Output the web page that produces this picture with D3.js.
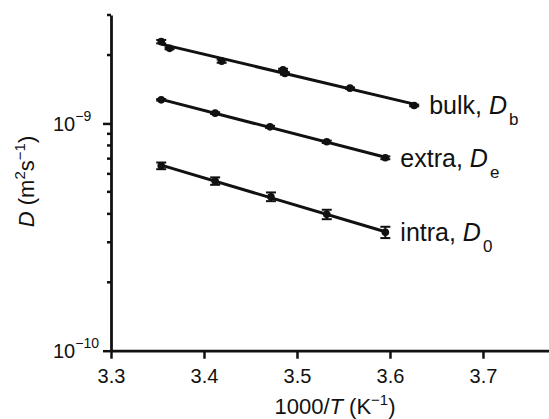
<!DOCTYPE html>
<html>
<head>
<meta charset="utf-8">
<script src="https://cdn.jsdelivr.net/npm/d3@7"></script>
<style>
  body { margin: 0; background: #fff; }
  text { font-family: "Liberation Sans", Arial, Helvetica, sans-serif; fill: #111; }
</style>
</head>
<body>
<div id="chart"></div>
<script>
// values (D in units of 1e-9 m^2/s)
const xTicks = [3.3, 3.4, 3.5, 3.6, 3.7];
const yMajor = [1e-10, 1e-9];
const yExponents = [-10, -9];
const yMinor = [2e-10, 3e-10, 4e-10, 5e-10, 6e-10, 7e-10, 8e-10, 9e-10, 2e-9, 3e-9];

const bulkX = [3.354, 3.363, 3.419, 3.485, 3.487, 3.557, 3.626];
const bulkD = [2.29, 2.14, 1.88, 1.72, 1.66, 1.43, 1.20];
const bulkErr = [0.04, 0.02, 0.03, 0.02, 0.02, 0.01, 0.01];

const extraX = [3.354, 3.412, 3.471, 3.532, 3.595];
const extraD = [1.27, 1.11, 0.966, 0.83, 0.706];
const extraErr = [0.01, 0.01, 0.01, 0.01, 0.01];

const intraX = [3.354, 3.412, 3.472, 3.532, 3.595];
const intraD = [0.651, 0.558, 0.476, 0.398, 0.332];
const intraErr = [0.022, 0.021, 0.021, 0.019, 0.019];

const seriesNames = ["bulk, ", "extra, ", "intra, "];
const seriesSubs = ["b", "e", "0"];

const series = [
  { x: bulkX, d: bulkD, err: bulkErr },
  { x: extraX, d: extraD, err: extraErr },
  { x: intraX, d: intraD, err: intraErr },
].map((s, i) => ({
  name: seriesNames[i],
  sub: seriesSubs[i],
  points: s.x.map((x, j) => ({ x, d: s.d[j] * 1e-9, e: s.err[j] * 1e-9 })),
}));

const width = 549;
const height = 419;

const xScale = d3.scaleLinear().domain([3.3, 3.771]).range([111, 549]);
const yScale = d3.scaleLog().domain([1e-10, 3e-9]).range([350.7, 15]);

const svg = d3
  .select("#chart")
  .append("svg")
  .attr("width", width)
  .attr("height", height);

// axes
const xAxis = svg
  .append("g")
  .attr("transform", `translate(0, ${yScale(1e-10)})`)
  .call(
    d3.axisBottom(xScale).tickValues(xTicks).tickSize(8).tickSizeOuter(0).tickFormat(d3.format(".1f"))
  );
xAxis.select(".domain").attr("stroke", "#111").attr("stroke-width", 2.8);
xAxis.selectAll(".tick line").attr("stroke", "#111").attr("stroke-width", 2.5);
xAxis
  .selectAll(".tick text")
  .attr("y", 18)
  .attr("dy", "0.71em")
  .style("font-size", "20px")
  .attr("fill", "#111");

const yAxis = svg
  .append("g")
  .attr("transform", `translate(${xScale(3.3)}, 0)`)
  .call(d3.axisLeft(yScale).tickValues(yMajor).tickSize(8).tickSizeOuter(0).tickFormat(""));
yAxis.select(".domain").attr("stroke", "#111").attr("stroke-width", 2.8);
yAxis.selectAll(".tick line").attr("stroke", "#111").attr("stroke-width", 2.5);

yAxis
  .selectAll(".minor")
  .data(yMinor)
  .join("line")
  .attr("class", "minor")
  .attr("x1", -4)
  .attr("x2", 0)
  .attr("y1", (d) => yScale(d))
  .attr("y2", (d) => yScale(d))
  .attr("stroke", "#111")
  .attr("stroke-width", 2.5);

// y tick labels as 10^n
const yLabels = svg
  .selectAll(".ylab")
  .data(yMajor)
  .join("text")
  .attr("class", "ylab")
  .attr("x", 53)
  .attr("y", (d) => yScale(d) + 7.5)
  .style("font-size", "20px");
yLabels.append("tspan").text("10");
yLabels
  .append("tspan")
  .attr("dy", -10)
  .style("font-size", "14px")
  .text((d, i) => "\u2212" + Math.abs(yExponents[i]));

// fitted lines (least squares in log space)
function fit(points) {
  const xs = points.map((p) => p.x);
  const ys = points.map((p) => Math.log10(p.d));
  const mx = d3.mean(xs);
  const my = d3.mean(ys);
  const b = d3.sum(xs, (x, i) => (x - mx) * (ys[i] - my)) / d3.sum(xs, (x) => (x - mx) ** 2);
  const a = my - b * mx;
  const [x0, x1] = d3.extent(xs);
  return [x0, x1].map((x) => ({ x, d: Math.pow(10, a + b * x) }));
}

const line = d3
  .line()
  .x((p) => xScale(p.x))
  .y((p) => yScale(p.d));

const groups = svg.selectAll(".series").data(series).join("g").attr("class", "series");

groups
  .append("path")
  .attr("d", (s) => line(fit(s.points)))
  .attr("fill", "none")
  .attr("stroke", "#111")
  .attr("stroke-width", 3);

// error bars
groups.each(function (s) {
  const g = d3.select(this);
  const eb = g.selectAll(".err").data(s.points).join("g").attr("class", "err");
  eb.append("line")
    .attr("x1", (p) => xScale(p.x))
    .attr("x2", (p) => xScale(p.x))
    .attr("y1", (p) => yScale(p.d - p.e))
    .attr("y2", (p) => yScale(p.d + p.e))
    .attr("stroke", "#111")
    .attr("stroke-width", 2);
  [1, -1].forEach((sgn) => {
    eb.append("line")
      .attr("x1", (p) => xScale(p.x) - 5)
      .attr("x2", (p) => xScale(p.x) + 5)
      .attr("y1", (p) => yScale(p.d + sgn * p.e))
      .attr("y2", (p) => yScale(p.d + sgn * p.e))
      .attr("stroke", "#111")
      .attr("stroke-width", 2);
  });
  g.selectAll("circle")
    .data(s.points)
    .join("circle")
    .attr("cx", (p) => xScale(p.x))
    .attr("cy", (p) => yScale(p.d))
    .attr("r", 3.8)
    .attr("fill", "#111");
});

// series labels
const labels = groups
  .append("text")
  .attr("x", (s) => xScale(s.points[s.points.length - 1].x) + 15)
  .attr("y", (s) => yScale(s.points[s.points.length - 1].d) + 9)
  .style("font-size", "25px");
labels.append("tspan").text((s) => s.name);
labels.append("tspan").style("font-style", "italic").text("D");
labels
  .append("tspan")
  .attr("dx", 2)
  .attr("dy", 11)
  .style("font-size", "17px")
  .text((s) => s.sub);

// axis titles
const xTitle = svg
  .append("text")
  .attr("x", 335)
  .attr("y", 414)
  .attr("text-anchor", "middle")
  .style("font-size", "22px");
xTitle.append("tspan").text("1000/");
xTitle.append("tspan").style("font-style", "italic").text("T");
xTitle.append("tspan").text(" (K");
xTitle.append("tspan").attr("dy", -9).style("font-size", "15px").text("\u22121");
xTitle.append("tspan").attr("dy", 9).text(")");

const yTitle = svg
  .append("text")
  .attr("transform", "translate(33.5, 181.5) rotate(-90)")
  .attr("text-anchor", "middle")
  .style("font-size", "22px");
yTitle.append("tspan").style("font-style", "italic").text("D");
yTitle.append("tspan").text(" (m");
yTitle.append("tspan").attr("dy", -9).style("font-size", "15px").text("2");
yTitle.append("tspan").attr("dy", 9).text("s");
yTitle.append("tspan").attr("dy", -9).style("font-size", "15px").text("\u22121");
yTitle.append("tspan").attr("dy", 9).text(")");
</script>
</body>
</html>
